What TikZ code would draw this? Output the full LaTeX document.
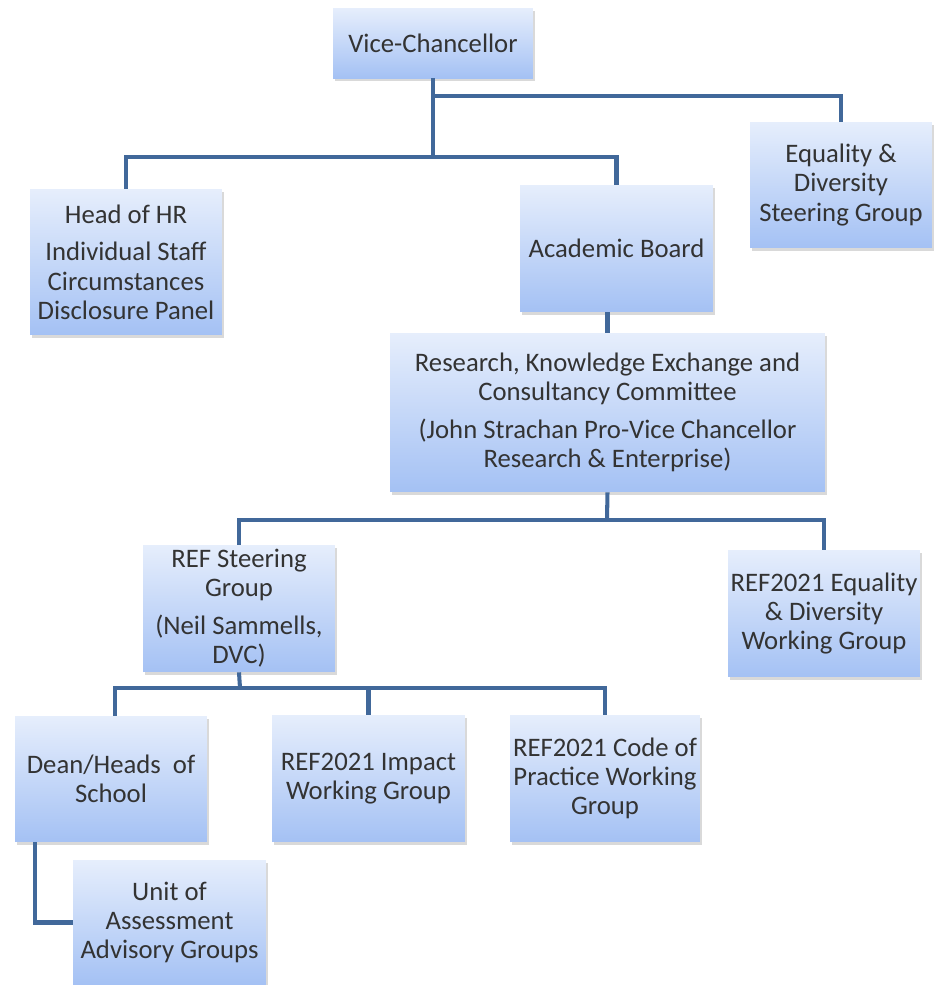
\documentclass[tikz,border=0pt]{standalone}
\usepackage{fontspec}
\setmainfont{Carlito}
\usetikzlibrary{shadows}
\definecolor{boxtop}{HTML}{E6EEFC}
\definecolor{boxbot}{HTML}{A4C1F4}
\definecolor{linkblue}{HTML}{41689A}
\definecolor{boxtext}{HTML}{333333}
\begin{document}
\begin{tikzpicture}[x=0.02cm,y=-0.02cm]
\tikzstyle{box}=[rectangle, inner sep=0pt, align=center, text=boxtext,
  minimum width=3.84cm, minimum height=2.54cm,
  top color=boxtop, bottom color=boxbot,
  drop shadow={shadow xshift=1pt, shadow yshift=-1.6pt, opacity=0.3},
  font=\fontsize{15.2}{16.6}\selectfont]
\tikzstyle{link}=[draw=linkblue, line width=2.3pt]
\useasboundingbox (0,0) rectangle (937,985);
\node[box, minimum width=4cm, minimum height=1.4cm] (vc) at (433,43) {Vice-Chancellor};
\node[box, minimum height=2.92cm] (hr) at (126,262) {Head of HR\\[5pt]Individual Staff\\Circumstances\\Disclosure Panel};
\node[box, minimum width=3.86cm] (ab) at (616.5,248.5) {Academic Board};
\node[box, minimum width=3.64cm, minimum height=2.52cm] (eq) at (841,185) {Equality \&\\Diversity\\Steering Group};
\node[box, minimum width=8.7cm, minimum height=3.18cm] (rs) at (607.5,412.5) {Research, Knowledge Exchange and\\Consultancy Committee\\[5pt](John Strachan Pro-Vice Chancellor\\Research \& Enterprise)};
\node[box] (st) at (239,608.5) {REF Steering\\Group\\[5pt](Neil Sammells,\\DVC)};
\node[box] (ed) at (824,613.5) {REF2021 Equality\\\& Diversity\\Working Group};
\node[box, minimum height=2.52cm] (dn) at (111,779) {Dean/Heads\ \ of\\School};
\node[box, minimum width=3.86cm] (im) at (368.5,778.5) {REF2021 Impact\\Working Group};
\node[box, minimum width=3.8cm] (cp) at (605,778.5) {REF2021 Code of\\Practice Working\\Group};
\node[box, minimum width=3.86cm, minimum height=2.5cm] (un) at (169.5,922.5) {Unit of\\Assessment\\Advisory Groups};
\coordinate (j1) at (433,157);
\coordinate (j2) at (433,96);
\coordinate (j3) at (607,520);
\coordinate (j4) at (240,688);
\draw[link] (vc.south) -- (j1);
\draw[link] (hr.north) |- (j1) -| (ab.north);
\draw[link] (j2) -| (eq.north);
\draw[link] (rs.north) -- (rs.north |- ab.south);
\draw[link] (rs.south) -- (j3);
\draw[link] (st.north) |- (j3) -| (ed.north);
\draw[link] (st.south) -- (j4);
\draw[link] ([xshift=0.08cm]dn.north) |- (j4) -| (cp.north);
\draw[link] (im.north) -- (im.north |- j4);
\draw[link] (un.west) -| ([xshift=0.4cm]dn.south west);
\end{tikzpicture}
\end{document}
